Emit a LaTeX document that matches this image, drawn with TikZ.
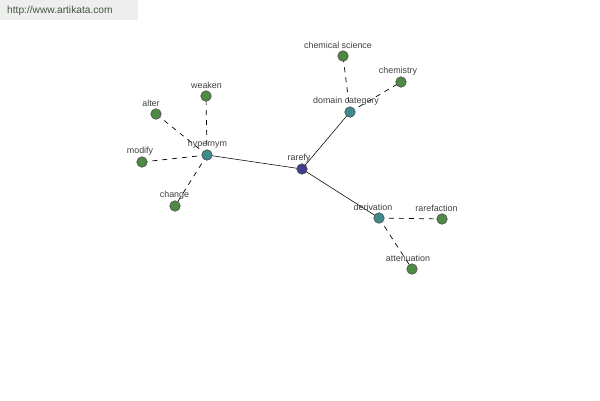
\documentclass[tikz,border=0pt]{standalone}
\usepackage{fontspec}
\setmainfont{Liberation Sans}
\definecolor{leafc}{HTML}{4E8A44}
\definecolor{midc}{HTML}{3E8A8C}
\definecolor{rootc}{HTML}{3F3F8E}
\definecolor{labc}{HTML}{404040}
\definecolor{urlc}{HTML}{3E5A3A}
\definecolor{urlbg}{HTML}{EEEEEE}
\begin{document}
\begin{tikzpicture}[x=1pt,y=-1pt,
  dot/.style={circle,draw=black!70,line width=0.6pt,minimum size=10.5pt,inner sep=0pt},
  leaf/.style={dot,fill=leafc},
  mid/.style={dot,fill=midc},
  root/.style={dot,fill=rootc},
  lab/.style={font=\fontsize{8.9}{10}\selectfont,text=labc,inner sep=0pt},
  solidedge/.style={draw=black,line width=0.55pt},
  dashedge/.style={draw=black,line width=0.7pt,dash pattern=on 5pt off 5pt}]
\useasboundingbox (0,0) rectangle (600,400);
\fill[white] (0,0) rectangle (600,400);
\fill[urlbg] (0,0) rectangle (138,20);
\node[anchor=west,font=\fontsize{10.2}{12}\selectfont,text=urlc,inner sep=0pt] (url) at (7,11) {http://www.artikata.com};
% node positions
\coordinate (rarefy) at (302,169);
\coordinate (hyp) at (207,155);
\coordinate (dom) at (350,112);
\coordinate (der) at (379,218);
\coordinate (weaken) at (206,96);
\coordinate (alter) at (156,114);
\coordinate (modify) at (142,162);
\coordinate (change) at (175,206);
\coordinate (chemsci) at (343,56);
\coordinate (chem) at (401,82);
\coordinate (raref) at (442,219);
\coordinate (atten) at (412,269);
% edges
\draw[solidedge] (rarefy) -- (hyp);
\draw[solidedge] (rarefy) -- (dom);
\draw[solidedge] (rarefy) -- (der);
\draw[dashedge] (hyp) -- (weaken);
\draw[dashedge] (hyp) -- (alter);
\draw[dashedge] (hyp) -- (modify);
\draw[dashedge] (hyp) -- (change);
\draw[dashedge] (dom) -- (chemsci);
\draw[dashedge] (dom) -- (chem);
\draw[dashedge] (der) -- (raref);
\draw[dashedge] (der) -- (atten);
% nodes on top
\node[root] (nrarefy) at (rarefy) {};
\node[mid] (nhyp) at (hyp) {};
\node[mid] (ndom) at (dom) {};
\node[mid] (nder) at (der) {};
\node[leaf] (nweaken) at (weaken) {};
\node[leaf] (nalter) at (alter) {};
\node[leaf] (nmodify) at (modify) {};
\node[leaf] (nchange) at (change) {};
\node[leaf] (nchemsci) at (chemsci) {};
\node[leaf] (nchem) at (chem) {};
\node[leaf] (nraref) at (raref) {};
\node[leaf] (natten) at (atten) {};
% labels
\node[lab] (l1) at (299,158) {rarefy};
\node[lab] (l2) at (207.5,144) {hypernym};
\node[lab] (l3) at (346,101) {domain category};
\node[lab] (l4) at (373,207) {derivation};
\node[lab] (l5) at (206.5,85) {weaken};
\node[lab] (l6) at (151,103) {alter};
\node[lab] (l7) at (140,151) {modify};
\node[lab] (l8) at (174.5,195) {change};
\node[lab] (l9) at (338,45) {chemical science};
\node[lab] (l10) at (398,71) {chemistry};
\node[lab] (l11) at (436.5,208) {rarefaction};
\node[lab] (l12) at (408,258) {attenuation};
\end{tikzpicture}
\end{document}
